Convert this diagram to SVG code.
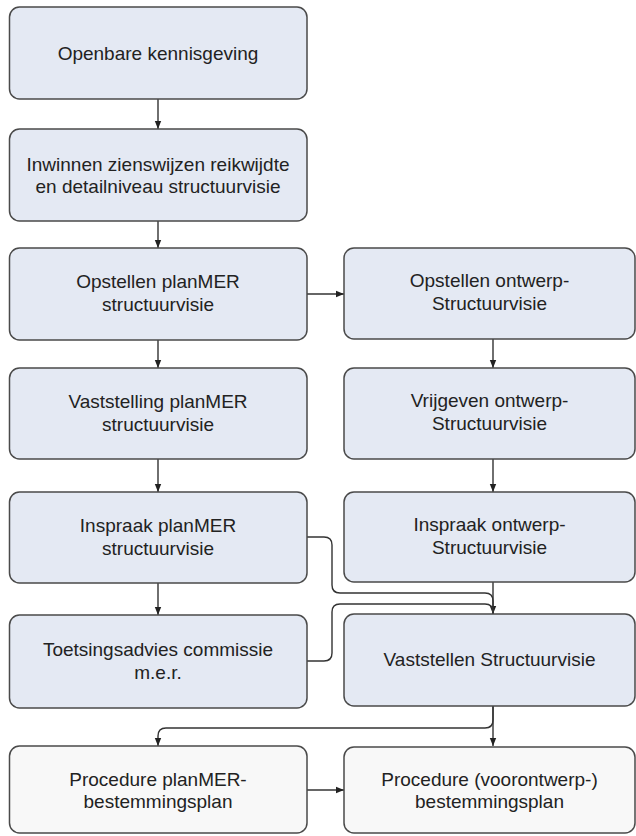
<svg xmlns="http://www.w3.org/2000/svg" width="636" height="836" viewBox="0 0 636 836">
<defs>
<marker id="ah" viewBox="0 0 8 8" refX="8" refY="4" markerWidth="8" markerHeight="8" markerUnits="userSpaceOnUse" orient="auto">
<path d="M0,0.8 L8,4 L0,7.2 Z" fill="#222"/>
</marker>
<style>
.b{fill:#e4e9f3;stroke:#4a4a4a;stroke-width:1.5}
.w{fill:#f8f8f8;stroke:#4a4a4a;stroke-width:1.5}
text{font-family:"Liberation Sans",Arial,sans-serif;font-size:19px;fill:#222;text-anchor:middle}
.c{fill:none;stroke:#333;stroke-width:1.4}
</style>
</defs>
<rect width="636" height="836" fill="#ffffff"/>
<g id="connectors">
<path class="c" d="M158,99 V129" marker-end="url(#ah)"/>
<path class="c" d="M158,221 V248" marker-end="url(#ah)"/>
<path class="c" d="M158,340 V368" marker-end="url(#ah)"/>
<path class="c" d="M158,459 V492" marker-end="url(#ah)"/>
<path class="c" d="M158,583 V615" marker-end="url(#ah)"/>
<path class="c" d="M307,294 H344" marker-end="url(#ah)"/>
<path class="c" d="M493,339 V368" marker-end="url(#ah)"/>
<path class="c" d="M493,459 V492" marker-end="url(#ah)"/>
<path class="c" d="M493,582 V614" marker-end="url(#ah)"/>
<path class="c" d="M307,537 H324 Q332,537 332,545 V585 Q332,593 340,593 H485 Q493,593 493,601 V614"/>
<path class="c" d="M307,661 H324 Q332,661 332,653 V612 Q332,604 340,604 H485 Q493,604 493,612 V614"/>
<path class="c" d="M493,706 V746" marker-end="url(#ah)"/>
<path class="c" d="M493,706 V720 Q493,728 485,728 H166 Q158,728 158,736 V746" marker-end="url(#ah)"/>
<path class="c" d="M307,790 H344" marker-end="url(#ah)"/>
</g>
<g id="n1"><rect class="b" x="9.5" y="7" width="297.5" height="92" rx="10"/><text x="158" y="60">Openbare kennisgeving</text></g>
<g id="n2"><rect class="b" x="9.5" y="129" width="297.5" height="92" rx="10"/><text x="158" y="171">Inwinnen zienswijzen reikwijdte</text><text x="158" y="193">en detailniveau structuurvisie</text></g>
<g id="n3"><rect class="b" x="9.5" y="248" width="297.5" height="92" rx="10"/><text x="158" y="288">Opstellen planMER</text><text x="158" y="311">structuurvisie</text></g>
<g id="n4"><rect class="b" x="9.5" y="368" width="297.5" height="91" rx="10"/><text x="158" y="408">Vaststelling planMER</text><text x="158" y="431">structuurvisie</text></g>
<g id="n5"><rect class="b" x="9.5" y="492" width="297.5" height="91" rx="10"/><text x="158" y="532">Inspraak planMER</text><text x="158" y="555">structuurvisie</text></g>
<g id="n6"><rect class="b" x="9.5" y="615" width="297.5" height="93" rx="10"/><text x="158" y="656">Toetsingsadvies commissie</text><text x="158" y="679">m.e.r.</text></g>
<g id="n7"><rect class="w" x="9.5" y="746" width="297.5" height="87" rx="10"/><text x="158" y="786">Procedure planMER-</text><text x="158" y="808">bestemmingsplan</text></g>
<g id="r1"><rect class="b" x="344" y="248" width="291" height="91" rx="10"/><text x="489.5" y="287">Opstellen ontwerp-</text><text x="489.5" y="310">Structuurvisie</text></g>
<g id="r2"><rect class="b" x="344" y="368" width="291" height="91" rx="10"/><text x="489.5" y="407">Vrijgeven ontwerp-</text><text x="489.5" y="430">Structuurvisie</text></g>
<g id="r3"><rect class="b" x="344" y="492" width="291" height="90" rx="10"/><text x="489.5" y="531">Inspraak ontwerp-</text><text x="489.5" y="554">Structuurvisie</text></g>
<g id="r4"><rect class="b" x="344" y="614" width="291" height="92" rx="10"/><text x="489.5" y="666">Vaststellen Structuurvisie</text></g>
<g id="r5"><rect class="w" x="344" y="747" width="291" height="86" rx="10"/><text x="489.5" y="786">Procedure (voorontwerp-)</text><text x="489.5" y="808">bestemmingsplan</text></g>
</svg>
